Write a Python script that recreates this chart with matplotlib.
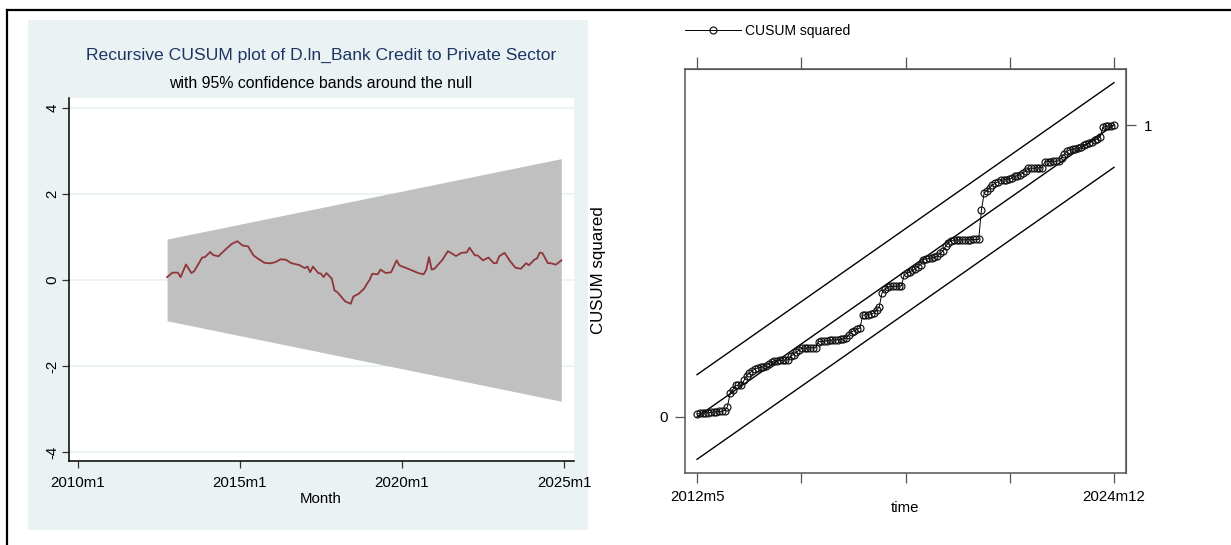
import numpy as np
import matplotlib
matplotlib.use('Agg')
import matplotlib.pyplot as plt
from matplotlib.patches import Rectangle
from matplotlib.lines import Line2D

plt.rcParams['font.family'] = ['Liberation Sans', 'DejaVu Sans']

# ---- left panel: recursive CUSUM (months counted from 2010m1) ----
cusum_month = [33, 35, 37, 38, 40, 42, 43, 46, 47, 49, 50, 52, 55, 57, 59, 61, 63, 65, 67,
               69, 71, 73, 75, 77, 79, 82, 84, 85, 86, 87, 89, 90, 91, 92, 94, 95, 96, 99,
               101, 102, 104, 106, 107, 108, 109, 111, 112, 114, 116, 118, 119, 123, 126,
               128, 129, 130, 131, 132, 135, 137, 140, 142, 144, 145, 147, 148, 150, 152,
               154, 155, 156, 158, 160, 162, 164, 166, 167, 169, 170, 171, 172, 174, 175,
               177, 179]
cusum_value = [0.065, 0.17, 0.17, 0.065, 0.36, 0.16, 0.20, 0.52, 0.53, 0.65, 0.58, 0.55,
               0.73, 0.84, 0.90, 0.80, 0.78, 0.57, 0.48, 0.40, 0.385, 0.41, 0.48, 0.47,
               0.39, 0.345, 0.275, 0.31, 0.18, 0.31, 0.16, 0.145, 0.065, 0.16, 0.03,
               -0.245, -0.28, -0.50, -0.555, -0.385, -0.32, -0.20, -0.09, 0.0, 0.145,
               0.13, 0.24, 0.16, 0.18, 0.455, 0.34, 0.24, 0.16, 0.13, 0.24, 0.53, 0.24,
               0.26, 0.47, 0.67, 0.555, 0.63, 0.64, 0.75, 0.57, 0.57, 0.455, 0.52, 0.39,
               0.39, 0.55, 0.63, 0.44, 0.285, 0.26, 0.39, 0.34, 0.47, 0.50, 0.635, 0.625,
               0.39, 0.39, 0.355, 0.455]
band_month = [33, 179]
band_upper = [0.95, 2.82]
band_lower = [-0.95, -2.82]
left_xticks = [0, 60, 120, 180]
left_xlabels = ['2010m1', '2015m1', '2020m1', '2025m1']
left_yticks = [-4, -2, 0, 2, 4]

# ---- right panel: CUSUM squared (months counted from 2012m5) ----
cusum_sq = [0.010, 0.012, 0.013, 0.014, 0.015, 0.016, 0.017, 0.018, 0.019, 0.020,
            0.022, 0.035, 0.081, 0.094, 0.108, 0.109, 0.110, 0.125, 0.142, 0.150,
            0.158, 0.165, 0.168, 0.170, 0.172, 0.175, 0.182, 0.188, 0.192, 0.193,
            0.194, 0.194, 0.195, 0.196, 0.210, 0.214, 0.222, 0.230, 0.236, 0.236,
            0.236, 0.237, 0.237, 0.237, 0.258, 0.259, 0.260, 0.261, 0.262, 0.263,
            0.264, 0.265, 0.266, 0.268, 0.270, 0.282, 0.292, 0.296, 0.300, 0.305,
            0.348, 0.350, 0.351, 0.353, 0.356, 0.365, 0.378, 0.425, 0.437, 0.445,
            0.447, 0.447, 0.448, 0.448, 0.449, 0.487, 0.492, 0.497, 0.502, 0.507,
            0.514, 0.522, 0.539, 0.541, 0.543, 0.545, 0.547, 0.550, 0.560, 0.568,
            0.585, 0.595, 0.603, 0.606, 0.606, 0.606, 0.607, 0.607, 0.607, 0.607,
            0.608, 0.608, 0.608, 0.709, 0.768, 0.775, 0.785, 0.795, 0.800, 0.806,
            0.810, 0.812, 0.813, 0.815, 0.818, 0.825, 0.826, 0.830, 0.835, 0.842,
            0.852, 0.852, 0.852, 0.853, 0.853, 0.854, 0.874, 0.875, 0.875, 0.876,
            0.876, 0.877, 0.888, 0.900, 0.910, 0.915, 0.917, 0.918, 0.920, 0.926,
            0.931, 0.935, 0.938, 0.943, 0.948, 0.953, 0.960, 0.992, 0.995, 0.996,
            0.998, 1.000]
sq_ends = [0, 151]
sq_expected = [0.0, 1.0]
sq_upper = [0.145, 1.145]
sq_lower = [-0.145, 0.855]
right_xticks = [0, 37.75, 75.5, 113.25, 151]
right_xlabels = ['2012m5', '', '', '', '2024m12']

W, H = 1231, 545
fig = plt.figure(figsize=(W / 100, H / 100), dpi=100)


def box(x0, y0, x1, y1):
    # pixel box (top-left origin) -> figure fraction rect
    return [x0 / W, 1 - y1 / H, (x1 - x0) / W, (y1 - y0) / H]


# outer frame lines (top and left)
fig.add_artist(Line2D([7 / W, 1], [1 - 10 / H, 1 - 10 / H], color='black', lw=1.6))
fig.add_artist(Line2D([7 / W, 7 / W], [0, 1 - 10 / H], color='black', lw=1.6))

# left panel background
fig.add_artist(Rectangle((28 / W, 1 - 530 / H), 560 / W, 510 / H,
                         facecolor='#EAF2F3', edgecolor='none', zorder=0))

ax = fig.add_axes(box(69, 98, 574, 461))
ax.set_facecolor('white')
ax.fill_between(band_month, band_lower, band_upper, color='#C0C0C0', lw=0, zorder=2)
ax.plot(cusum_month, cusum_value, color='#90353B', lw=1.3, zorder=3)
ax.set_xlim(-3.33, 183.7)
ax.set_ylim(-4.21, 4.23)
ax.set_xticks(left_xticks)
ax.set_xticklabels(left_xlabels)
ax.set_yticks(left_yticks)
ax.set_yticklabels([str(v) for v in left_yticks], rotation=90, va='center')
ax.grid(axis='y', color='#EAF2F3', lw=1.3, zorder=1)
ax.set_axisbelow(True)
for s in ['top', 'right']:
    ax.spines[s].set_visible(False)
for s in ['left', 'bottom']:
    ax.spines[s].set_color('black')
    ax.spines[s].set_linewidth(1.1)
ax.tick_params(axis='both', length=5, width=0.9, color='#333333', labelsize=10.8)
ax.tick_params(axis='y', pad=2)
ax.tick_params(axis='x', pad=6)

fig.text(321 / W, 1 - 55 / H, 'Recursive CUSUM plot of D.ln_Bank Credit to Private Sector',
         ha='center', va='center', fontsize=12.6, color='#1C3563')
fig.text(321 / W, 1 - 84 / H, 'with 95% confidence bands around the null',
         ha='center', va='center', fontsize=11.4, color='black')
fig.text(321 / W, 1 - 499 / H, 'Month', ha='center', va='center', fontsize=10.8, color='black')

# right panel
ax2 = fig.add_axes(box(685, 69, 1126, 473))
months = np.arange(len(cusum_sq))
ax2.plot(sq_ends, sq_upper, color='black', lw=1.0)
ax2.plot(sq_ends, sq_lower, color='black', lw=1.0)
ax2.plot(sq_ends, sq_expected, color='black', lw=1.0)
line, = ax2.plot(months, cusum_sq, color='black', lw=0.7, marker='o', markersize=5,
                 markerfacecolor='none', markeredgecolor='#111111', markeredgewidth=0.85,
                 label='CUSUM squared')
ax2.set_xlim(-4.35, 155.35)
ax2.set_ylim(-0.1918, 1.1918)
ax2.set_xticks(right_xticks)
ax2.set_xticklabels(right_xlabels)
ax2.set_yticks([0])
ax2.set_yticklabels(['0'])
for s in ax2.spines.values():
    s.set_color('#555555')
    s.set_linewidth(1.1)
ax2.tick_params(axis='both', length=7, width=0.9, color='#555555', labelsize=10.8, pad=5)

top = ax2.secondary_xaxis('top')
top.set_xticks(right_xticks)
top.set_xticklabels([])
top.tick_params(length=9, width=0.9, color='#555555')
top.spines['top'].set_color('#555555')

right = ax2.secondary_yaxis('right')
right.set_yticks([1])
right.set_yticklabels(['1'])
right.tick_params(length=7, width=0.9, color='#555555', labelsize=10.8, pad=6)
right.spines['right'].set_color('#555555')

fig.text(598 / W, 1 - 270 / H, 'CUSUM squared', rotation=90, ha='center', va='center',
         fontsize=12.2)
fig.text(905 / W, 1 - 508 / H, 'time', ha='center', va='center', fontsize=10.8)

fig.legend(handles=[line], loc='center left', bbox_to_anchor=(685 / W, 1 - 31 / H),
           frameon=False, fontsize=10, handlelength=4.0, handletextpad=0.35,
           borderpad=0, borderaxespad=0, numpoints=1)

fig.savefig('out.png', dpi=100)
